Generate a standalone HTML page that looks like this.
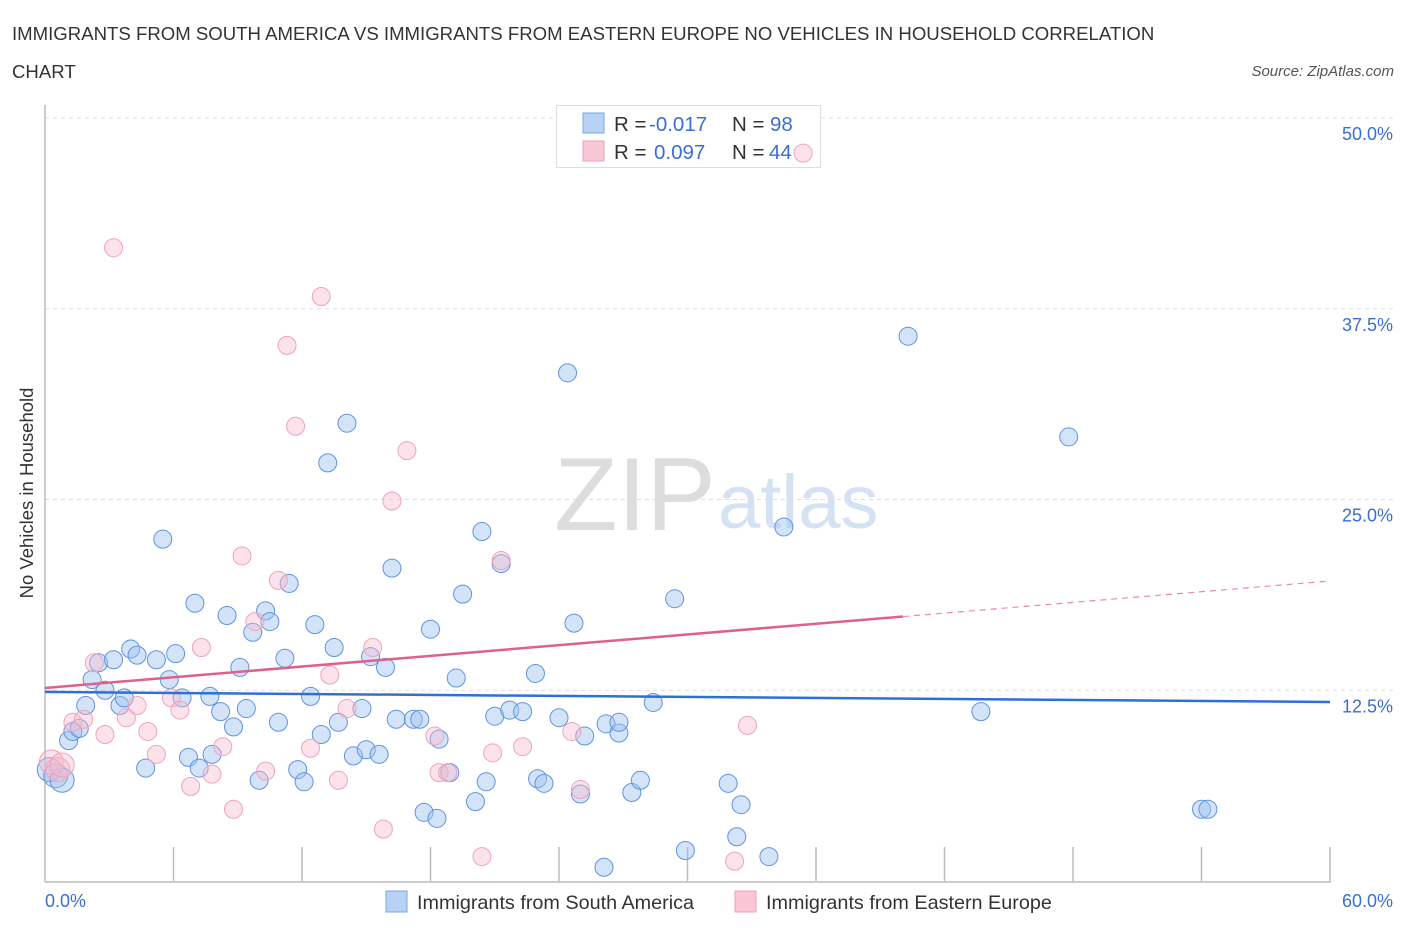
<!DOCTYPE html>
<html><head><meta charset="utf-8"><style>
body{margin:0;background:#fff;font-family:"Liberation Sans",sans-serif;}
svg text{font-family:"Liberation Sans",sans-serif;}
</style></head><body>
<svg id="chart" width="1406" height="930" viewBox="0 0 1406 930">
<text x="12" y="40" font-size="18.6" fill="#333">IMMIGRANTS FROM SOUTH AMERICA VS IMMIGRANTS FROM EASTERN EUROPE NO VEHICLES IN HOUSEHOLD CORRELATION</text>
<text x="12" y="78" font-size="18.6" fill="#333">CHART</text>
<text x="1394" y="76" font-size="15" fill="#555" font-style="italic" text-anchor="end">Source: ZipAtlas.com</text>
<text x="33" y="493" font-size="18.5" fill="#333" text-anchor="middle" transform="rotate(-90 33 493)">No Vehicles in Household</text>
<g>
<text x="554" y="530" font-size="104" font-family="Liberation Serif" fill="#ddd">ZIP</text>
<text x="718" y="528" font-size="76" fill="#d4e2f4">atlas</text>
</g>
<g id="grid"></g><g id="axes"></g>
<g>
<rect x="556.5" y="105.5" width="264" height="62" fill="#fff" stroke="#ddd"/>
<rect x="583" y="113" width="21" height="20" fill="#b8d2f6" stroke="#7aa7e8"/>
<rect x="583" y="141" width="21" height="20" fill="#f9c6d6" stroke="#eea0b8"/>
<text x="614" y="131" font-size="20.5" fill="#333">R = <tspan x="649" fill="#3a6fd0">-0.017</tspan><tspan x="732">N = </tspan><tspan x="770" fill="#3a6fd0">98</tspan></text>
<text x="614" y="159" font-size="20.5" fill="#333">R = <tspan x="654" fill="#3a6fd0">0.097</tspan><tspan x="732">N = </tspan><tspan x="769" fill="#3a6fd0">44</tspan></text>
</g>
<g id="marks"></g><g id="trends"></g>
<g>
<rect x="386" y="891" width="21" height="21" fill="#b8d2f6" stroke="#7aa7e8"/>
<text x="417" y="909" font-size="19.8" fill="#333">Immigrants from South America</text>
<rect x="735" y="891" width="21" height="21" fill="#f9c6d6" stroke="#eea0b8"/>
<text x="766" y="909" font-size="19.8" fill="#333">Immigrants from Eastern Europe</text>
</g>
</svg>
<script>
const yTicks=[12.5,25,37.5,50];
const yTickLabels=["12.5%","25.0%","37.5%","50.0%"];
const xTickLabels=["0.0%","60.0%"];
const blueX=[0.2,0.5,0.8,1.1,1.3,1.6,1.9,2.2,2.5,2.8,3.2,3.5,3.7,4.0,4.3,4.7,5.2,5.5,5.8,6.1,6.4,6.7,7.0,7.2,7.7,7.8,8.2,8.5,8.8,9.1,9.4,9.7,10.0,10.3,10.5,10.9,11.2,11.4,11.8,12.1,12.4,12.6,12.9,13.2,13.5,13.7,14.1,14.4,14.8,15.0,15.2,15.6,15.9,16.2,16.4,17.2,17.5,17.7,18.0,18.3,18.4,18.9,19.2,19.5,20.1,20.4,20.6,21.0,21.3,21.7,22.3,22.9,23.0,23.3,24.0,24.4,24.7,25.0,25.2,26.1,26.2,26.8,26.8,27.4,27.8,28.4,29.4,29.9,31.9,32.5,32.3,33.8,34.5,40.3,43.7,47.8,54.0,54.3];
const blueY=[7.3,6.9,6.6,9.2,9.8,10.0,11.5,13.2,14.3,12.5,14.5,11.5,12.0,15.2,14.8,7.4,14.5,22.4,13.2,14.9,12.0,8.1,18.2,7.4,12.1,8.3,11.1,17.4,10.1,14.0,11.3,16.3,6.6,17.7,17.0,10.4,14.6,19.5,7.3,6.5,12.1,16.8,9.6,27.4,15.3,10.4,30.0,8.2,11.3,8.6,14.7,8.3,14.0,20.5,10.6,10.6,10.6,4.5,16.5,4.1,9.3,7.1,13.3,18.8,5.2,22.9,6.5,10.8,20.8,11.2,11.1,13.6,6.7,6.4,10.7,33.3,16.9,5.7,9.5,0.9,10.3,9.7,10.4,5.8,6.6,11.7,18.5,2.0,6.4,5.0,2.9,1.6,23.2,35.7,11.1,29.1,4.7,4.7];
const pinkX=[0.3,0.6,0.8,1.3,1.8,2.3,2.8,3.2,3.8,4.3,4.8,5.2,5.9,6.3,6.8,7.3,7.8,8.3,8.8,9.2,9.8,10.3,10.9,11.3,11.7,12.4,12.9,13.3,13.7,14.1,15.3,15.8,16.2,16.9,18.2,18.4,18.8,20.4,20.9,21.3,22.3,24.6,25.0,32.2,32.8,35.4];
const pinkY=[7.8,7.3,7.6,10.4,10.6,14.3,9.6,41.5,10.7,11.5,9.8,8.3,12.0,11.2,6.2,15.3,7.0,8.8,4.7,21.3,17.0,7.2,19.7,35.1,29.8,8.7,38.3,13.5,6.6,11.3,15.3,3.4,24.9,28.2,9.5,7.1,7.1,1.6,8.4,21.0,8.8,9.8,6.0,1.3,10.2,47.7];
const blueTrend=[12.39,11.73];
const pinkTrend=[12.65,19.66];
const NS="http://www.w3.org/2000/svg";
const X0=45,X1=1330,Y0=881,Y1=118;
function sx(v){return X0+v/60*(X1-X0);}
function sy(v){return Y0-v/50*(Y0-Y1);}
function mk(t,a,p){const e=document.createElementNS(NS,t);for(const k in a)e.setAttribute(k,a[k]);p.appendChild(e);return e;}
const grid=document.getElementById('grid'),axes=document.getElementById('axes'),marks=document.getElementById('marks'),trends=document.getElementById('trends');
yTicks.forEach((t,i)=>{
 const l=mk('line',{x1:X0,x2:1395,y1:sy(t),y2:sy(t),stroke:'#ddd','stroke-dasharray':'4,4'},grid);
 
 
 const tx=mk('text',{x:1393,y:sy(t)+22,'font-size':18,fill:'#3a6fd0','text-anchor':'end'},axes);
 tx.textContent=yTickLabels[i];
 
 
});
const ya=mk('line',{x1:X0,x2:X0,y1:105,y2:Y0+1,stroke:'#bbb','stroke-width':1.5},axes);


const xa=mk('line',{x1:X0,x2:X1+1,y1:Y0+1,y2:Y0+1,stroke:'#bbb','stroke-width':1.5},axes);


for(let i=1;i<=10;i++){
 const tk=mk('line',{x1:sx(i*6),x2:sx(i*6),y1:847,y2:Y0,stroke:'#bbb','stroke-width':1.5},axes);
 
 
}
[[X0,'start',0],[1393,'end',1]].forEach(([x,a,i])=>{
 const t=mk('text',{x:x,y:907,'font-size':18,fill:'#3a6fd0','text-anchor':a},axes);
 t.textContent=xTickLabels[i];
 
 
});
function rad(x,y){return (x<1.2&&y<9)?12:9;}
blueX.forEach((x,i)=>{
 const c=mk('circle',{cx:sx(x),cy:sy(blueY[i]),r:rad(x,blueY[i]),fill:'rgba(160,196,240,0.45)',stroke:'#5f93e0','stroke-width':1},marks);
 
 
});
pinkX.forEach((x,i)=>{
 const c=mk('circle',{cx:sx(x),cy:sy(pinkY[i]),r:rad(x,pinkY[i]),fill:'rgba(248,186,206,0.4)',stroke:'#f0a2ba','stroke-width':1},marks);
 
 
});
const bl=mk('line',{x1:sx(0),y1:sy(blueTrend[0]),x2:sx(60),y2:sy(blueTrend[1]),stroke:'#2f6fd6','stroke-width':2.5},trends);


const pe=40.06, py=pinkTrend[0]+(pinkTrend[1]-pinkTrend[0])*pe/60;
const pl=mk('line',{x1:sx(0),y1:sy(pinkTrend[0]),x2:sx(pe),y2:sy(py),stroke:'#e0608a','stroke-width':2.5},trends);


const pd=mk('line',{x1:sx(pe),y1:sy(py),x2:sx(60),y2:sy(pinkTrend[1]),stroke:'#e88aa8','stroke-width':1.2,'stroke-dasharray':'6,5'},trends);


</script>
</body></html>
